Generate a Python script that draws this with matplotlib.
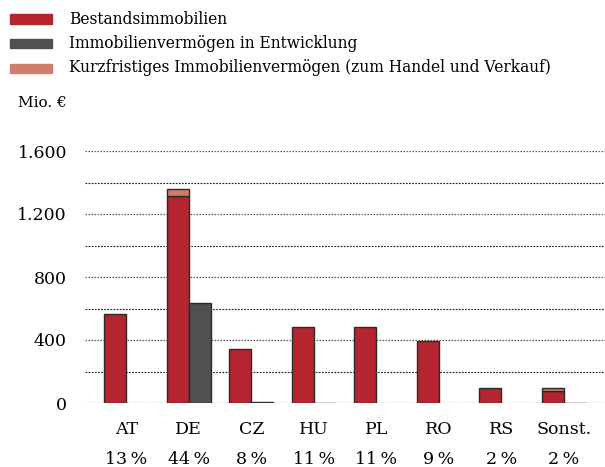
import numpy as np
import matplotlib
matplotlib.use("Agg")
import matplotlib.pyplot as plt
from matplotlib.patches import Rectangle
from matplotlib.transforms import blended_transform_factory

laender = ["AT", "DE", "CZ", "HU", "PL", "RO", "RS", "Sonst."]
anteile = ["13\u2009%", "44\u2009%", "8\u2009%", "11\u2009%", "11\u2009%", "9\u2009%", "2\u2009%", "2\u2009%"]
bestand = [565, 1317, 345, 483, 483, 396, 98, 76]
entwicklung = [0, 637, 8, 3, 0, 0, 0, 3]
kurzfristig = [0, 44, 0, 0, 0, 0, 0, 22]
y_ticks = [0, 400, 800, 1200, 1600]
y_labels = ["0", "400", "800", "1.200", "1.600"]

ROT = "#b5252f"
GRAU = "#505050"
LACHS = "#d27d69"
RAND = "#2a2a2a"

plt.rcParams["font.family"] = ["DejaVu Serif"]

fig = plt.figure(figsize=(6.05, 4.67), dpi=100)
ax = fig.add_axes([85 / 605, 64 / 467, 520 / 605, 252 / 467])

x = np.arange(len(laender))
w = 0.35
b = np.array(bestand)
e = np.array(entwicklung)
k = np.array(kurzfristig)
ax.bar(x - w / 2, b, w, color=ROT, edgecolor=RAND, linewidth=1, zorder=3)
m = k > 0
ax.bar(x[m] - w / 2, k[m], w, bottom=b[m], color=LACHS, edgecolor=RAND, linewidth=1, zorder=3)
m = e > 0
ax.bar(x[m] + w / 2, e[m], w, color=GRAU, edgecolor=RAND, linewidth=1, zorder=3)

ax.set_xlim(-0.66, 7.66)
ax.set_ylim(0, 1600)
ax.set_yticks(y_ticks)
ax.set_yticklabels(y_labels)
ax.set_yticks(np.arange(200, 1600, 400), minor=True)
ax.grid(axis="y", which="major", linestyle=(0, (1.2, 1.2)), color="#555555", linewidth=0.9, zorder=0)
ax.grid(axis="y", which="minor", linestyle=(0, (1.6, 1.2)), color="#222222", linewidth=0.8, zorder=0)
ax.tick_params(axis="y", which="both", length=0, pad=13, labelsize=12.5)
ax.set_xticks(x)
ax.set_xticklabels(laender)
ax.tick_params(axis="x", length=0, pad=13, labelsize=12.5)
for s in ax.spines.values():
    s.set_visible(False)

trans = blended_transform_factory(ax.transData, fig.transFigure)
for xi, a in zip(x, anteile):
    ax.text(xi, 1 - 459 / 467, a, transform=trans, ha="center", va="center", fontsize=12.5)

fig.text(18 / 605, 1 - 103 / 467, "Mio. €", ha="left", va="center", fontsize=11)

legende = [("Bestandsimmobilien", ROT),
           ("Immobilienvermögen in Entwicklung", GRAU),
           ("Kurzfristiges Immobilienvermögen (zum Handel und Verkauf)", LACHS)]
for i, (txt, c) in enumerate(legende):
    yc = 19 + i * 24.5
    fig.patches.append(Rectangle((10 / 605, 1 - (yc + 4.5) / 467), 42 / 605, 9 / 467,
                                 transform=fig.transFigure, color=c))
    fig.text(69 / 605, 1 - yc / 467, txt, ha="left", va="center", fontsize=11.2)

fig.savefig("out.png", dpi=100)
